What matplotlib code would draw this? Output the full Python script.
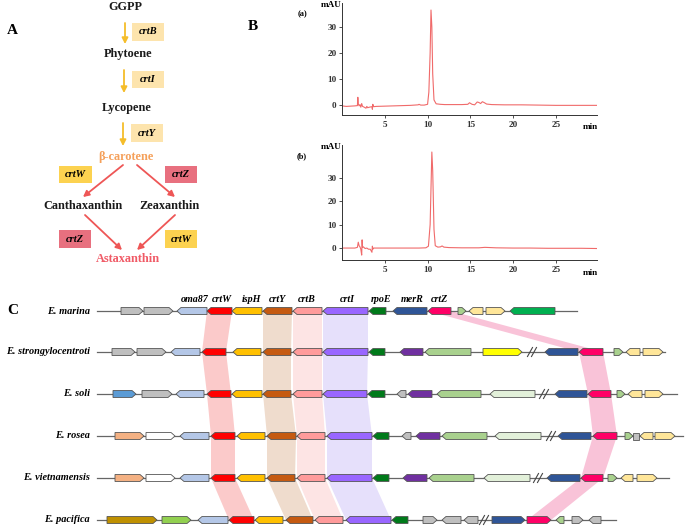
import matplotlib
matplotlib.use("Agg")
import matplotlib.pyplot as plt
from matplotlib.patches import Polygon, Rectangle

SERIF = ["Liberation Serif", "DejaVu Serif"]
plt.rcParams["font.family"] = SERIF

# ---------------- data ----------------
# Panel A pathway
pathway_main = ["GGPP", "Phytoene", "Lycopene", "β-carotene"]
pathway_enz = ["crtB", "crtI", "crtY"]
branch_products = ["Canthaxanthin", "Zeaxanthin"]
final_product = "Astaxanthin"

# Panel B chromatograms (time in min, absorbance in mAU)
time_a = [0, 0.5, 1.0, 1.5, 1.8, 1.85, 1.9, 2.0, 2.1, 2.2, 2.3, 2.4, 2.6, 2.8, 2.9, 3.0, 3.2, 3.5,
          3.55, 3.6, 3.7, 4.0, 5.0, 6.0, 7.0, 8.0, 8.9, 9.0, 9.2, 9.6, 10.0, 10.15, 10.3, 10.4,
          10.5, 10.6, 10.75, 11.0, 11.5, 12, 13, 14, 14.7, 14.9, 15.2, 15.5, 15.8, 16.0, 16.2,
          16.4, 16.6, 16.9, 17.5, 19, 21, 23, 25, 27, 29.8]
mau_a = [-0.3, -0.5, -0.4, -0.3, -0.2, 3.0, 0.5, -0.3, 0.2, -0.8, 0.6, -0.5, -0.8, -1.2, -0.5,
         -1.0, -0.8, -0.6, -1.6, 0.3, -0.6, -0.5, -0.4, -0.3, -0.2, -0.1, 0.1, 0.3, 0.0, 0.0,
         0.3, 5.0, 20.0, 36.5, 30.0, 12.0, 2.0, 0.5, 0.3, 0.2, 0.2, 0.2, 0.3, 0.9, 0.3, 0.1,
         1.2, 1.0, 0.6, 1.3, 1.0, 0.4, 0.2, 0.1, 0.1, 0.0, -0.1, -0.1, -0.1]
time_b = [0, 0.5, 1.0, 1.5, 1.8, 1.9, 2.0, 2.1, 2.2, 2.3, 2.35, 2.4, 2.5, 2.7, 2.9, 3.1, 3.3,
          3.5, 3.55, 3.6, 3.7, 4.0, 5, 6, 7, 8, 9, 9.8, 10.1, 10.3, 10.5, 10.6, 10.75, 10.9,
          11.2, 11.5, 11.7, 11.9, 12.5, 14, 16, 16.7, 18, 20, 22, 24, 26, 28, 29.8]
mau_b = [0, 0, 0, 0, 0.3, 2.5, 1.0, 0.5, -0.5, -3.0, 3.5, 0.3, 0.5, -0.2, 0, -0.5, -0.5,
         -1.8, 0.8, -0.5, 0, 0, 0, 0, 0, 0, 0, 0.1, 0.8, 10, 41, 33, 8, 1.0, 0.4, 0.5, 0.9,
         0.4, 0.2, 0.1, 0.1, 0.3, 0.1, 0, 0, -0.1, -0.1, -0.1, -0.2]
x_ticks = [5, 10, 15, 20, 25]
y_ticks = [0, 10, 20, 30]

# Panel C gene clusters: (name, start, end, direction, colour key)
genomes = ["E. marina", "E. strongylocentroti", "E. soli", "E. rosea",
           "E. vietnamensis", "E. pacifica"]
cluster_marina = [
    ("", 121, 143, "R", "gray"), ("", 144, 173, "R", "gray"), ("oma87", 177, 207, "L", "lblue"),
    ("crtW", 207, 232, "L", "red"), ("ispH", 232, 262, "L", "yellow"), ("crtY", 263, 292, "L", "brown"),
    ("crtB", 293, 322, "L", "pink"), ("crtI", 323, 368, "L", "purple"), ("rpoE", 369, 386, "L", "green"),
    ("merR", 393, 427, "L", "blue"), ("crtZ", 428, 451, "L", "crtz"), ("", 458, 466, "R", "sgreen"),
    ("", 469, 483, "L", "lyellow"), ("", 486, 505, "R", "lyellow"), ("", 510, 555, "L", "bgreen")]
cluster_strongylo = [
    ("", 112, 135, "R", "gray"), ("", 137, 166, "R", "gray"), ("", 171, 200, "L", "lblue"),
    ("crtW", 202, 226, "L", "red"), ("", 233, 261, "L", "yellow"), ("crtY", 263, 291, "L", "brown"),
    ("crtB", 293, 322, "L", "pink"), ("crtI", 323, 368, "L", "purple"), ("", 369, 385, "L", "green"),
    ("", 400, 423, "L", "dpurple"), ("", 425, 471, "L", "sgreen"), ("", 483, 522, "R", "byellow"),
    ("", 545, 578, "L", "blue"), ("crtZ", 579, 603, "L", "crtz"), ("", 614, 623, "R", "sgreen"),
    ("", 626, 640, "L", "lyellow"), ("", 643, 663, "R", "lyellow")]
cluster_soli = [
    ("", 113, 136, "R", "steel"), ("", 142, 172, "R", "gray"), ("", 176, 204, "L", "lblue"),
    ("crtW", 207, 231, "L", "red"), ("", 232, 262, "L", "yellow"), ("crtY", 263, 291, "L", "brown"),
    ("crtB", 293, 322, "L", "pink"), ("crtI", 323, 367, "L", "purple"), ("", 368, 385, "L", "green"),
    ("", 397, 406, "L", "gray"), ("", 408, 432, "L", "dpurple"), ("", 437, 481, "L", "sgreen"),
    ("", 490, 535, "L", "vlgreen"), ("", 555, 587, "L", "blue"), ("crtZ", 588, 611, "L", "crtz"),
    ("", 617, 625, "R", "sgreen"), ("", 628, 642, "L", "lyellow"), ("", 645, 663, "R", "lyellow")]
cluster_rosea = [
    ("", 115, 144, "R", "salmon"), ("", 146, 175, "R", "white"), ("", 180, 209, "L", "lblue"),
    ("crtW", 211, 235, "L", "red"), ("", 237, 265, "L", "yellow"), ("crtY", 267, 296, "L", "brown"),
    ("crtB", 297, 325, "L", "pink"), ("crtI", 327, 372, "L", "purple"), ("", 373, 389, "L", "green"),
    ("", 402, 411, "L", "gray"), ("", 416, 440, "L", "dpurple"), ("", 442, 487, "L", "sgreen"),
    ("", 495, 541, "L", "vlgreen"), ("", 558, 591, "L", "blue"), ("crtZ", 593, 617, "L", "crtz"),
    ("", 625, 633, "R", "sgreen"), ("", 633, 639, "S", "gray"), ("", 640, 653, "L", "lyellow"),
    ("", 655, 675, "R", "lyellow")]
cluster_vietnam = [
    ("", 115, 144, "R", "salmon"), ("", 146, 175, "R", "white"), ("", 180, 209, "L", "lblue"),
    ("crtW", 211, 235, "L", "red"), ("", 237, 265, "L", "yellow"), ("crtY", 267, 295, "L", "brown"),
    ("crtB", 297, 325, "L", "pink"), ("crtI", 327, 372, "L", "purple"), ("", 373, 389, "L", "green"),
    ("", 403, 427, "L", "dpurple"), ("", 429, 474, "L", "sgreen"), ("", 484, 530, "L", "vlgreen"),
    ("", 547, 580, "L", "blue"), ("crtZ", 581, 603, "L", "crtz"), ("", 608, 617, "R", "sgreen"),
    ("", 621, 633, "L", "lyellow"), ("", 637, 657, "R", "lyellow")]
cluster_pacifica = [
    ("", 107, 157, "R", "olive"), ("", 162, 191, "R", "lime"), ("", 198, 228, "L", "lblue"),
    ("crtW", 229, 254, "L", "red"), ("", 255, 283, "L", "yellow"), ("crtY", 286, 313, "L", "brown"),
    ("crtB", 315, 343, "L", "pink"), ("crtI", 346, 391, "L", "purple"), ("", 392, 408, "L", "green"),
    ("", 423, 437, "R", "gray"), ("", 442, 461, "L", "gray"), ("", 464, 478, "L", "gray"),
    ("", 492, 525, "R", "blue"), ("crtZ", 527, 551, "R", "crtz"), ("", 556, 564, "L", "sgreen"),
    ("", 572, 583, "R", "gray"), ("", 589, 601, "L", "gray")]
clusters = [cluster_marina, cluster_strongylo, cluster_soli, cluster_rosea, cluster_vietnam,
            cluster_pacifica]
line_ends = [577, 665, 677, 683, 669, 616]
breaks = [None, 532, 544, 551, 538, 484]
ribbon_genes = ["crtW", "crtY", "crtB", "crtI", "crtZ"]

# ---------------- styles ----------------
gene_colors = {
    "gray": "#bfbfbf", "lblue": "#b4c7e7", "red": "#ff0000", "yellow": "#ffc000",
    "brown": "#c55a11", "pink": "#ff9b9b", "purple": "#9966ff", "green": "#007a1a",
    "blue": "#2f5597", "crtz": "#ff0066", "sgreen": "#a9d18e", "lyellow": "#ffe699",
    "bgreen": "#00b050", "dpurple": "#7030a0", "byellow": "#ffff00", "vlgreen": "#e2f0d9",
    "steel": "#5b9bd5", "salmon": "#f4b183", "white": "#ffffff", "olive": "#bf9000",
    "lime": "#92d050"}
ribbon_colors = {"crtW": "#fbcaca", "crtY": "#efdccd", "crtB": "#fde4e4",
                 "crtI": "#e6e0fb", "crtZ": "#f9c3d8"}
row_y = [311, 352, 394, 436, 478, 520]

W, H = 685, 527
fig = plt.figure(figsize=(W / 100, H / 100), dpi=100)
ax0 = fig.add_axes([0, 0, 1, 1])
ax0.set_xlim(0, W)
ax0.set_ylim(H, 0)
ax0.axis("off")

bold = dict(fontweight="bold", family=SERIF)
ital = dict(fontweight="bold", style="italic", family=SERIF)

# ---------------- Panel A ----------------
ax0.text(7, 30, "A", fontsize=11, va="center", ha="left", **bold)
main_pos = [(125, 7), (128, 54), (127, 108), (126, 157)]
main_cols = ["#1a1a1a", "#1a1a1a", "#1a1a1a", "#f5a05a"]
for name, (x, y), c in zip(pathway_main, main_pos, main_cols):
    ax0.text(x, y, name, fontsize=8.8, ha="center", va="center", color=c, **bold)
gold_arrows = [((125, 23), (125, 44)), ((124, 70), (124, 93)), ((123, 123), (123, 146))]
enz_boxes = [(132, 23, 164, 41), (132, 71, 164, 88), (131, 124, 163, 142)]
for (p0, p1), (bx0, by0, bx1, by1), enz in zip(gold_arrows, enz_boxes, pathway_enz):
    ax0.annotate("", xy=p1, xytext=p0,
                 arrowprops=dict(arrowstyle="-|>,head_length=0.35,head_width=0.18",
                                 color="#f5bd2a", lw=1.3, shrinkA=0, shrinkB=0))
    ax0.add_patch(Rectangle((bx0, by0), bx1 - bx0, by1 - by0, color="#fde4ad", lw=0))
    ax0.text((bx0 + bx1) / 2, (by0 + by1) / 2, enz, fontsize=7.6, ha="center", va="center", **ital)

red_arrows = [((123, 165), (83, 197)), ((137, 165), (175, 197)),
              ((85, 215), (122, 250)), ((175, 215), (137, 250))]
for p0, p1 in red_arrows:
    ax0.annotate("", xy=p1, xytext=p0,
                 arrowprops=dict(arrowstyle="-|>,head_length=0.35,head_width=0.18",
                                 color="#ee5656", lw=1.3, shrinkA=0, shrinkB=0))
branch_boxes = [((59, 166, 92, 183), "crtW", "#fcd250"), ((165, 166, 197, 183), "crtZ", "#e8707f"),
                ((59, 230, 91, 248), "crtZ", "#e8707f"), ((165, 230, 197, 248), "crtW", "#fcd250")]
for (bx0, by0, bx1, by1), enz, c in branch_boxes:
    ax0.add_patch(Rectangle((bx0, by0), bx1 - bx0, by1 - by0, color=c, lw=0))
    ax0.text((bx0 + bx1) / 2, (by0 + by1) / 2, enz, fontsize=7.6, ha="center", va="center", **ital)
ax0.text(83, 206, branch_products[0], fontsize=8.8, ha="center", va="center", color="#1a1a1a", **bold)
ax0.text(170, 206, branch_products[1], fontsize=8.8, ha="center", va="center", color="#1a1a1a", **bold)
ax0.text(128, 259, final_product, fontsize=8.8, ha="center", va="center", color="#f05a66", **bold)

# ---------------- Panel B ----------------
ax0.text(248, 27, "B", fontsize=11, va="center", ha="left", **bold)


def chrom(top, bottom, ylim, t, v, tag):
    ax = fig.add_axes([342 / W, 1 - bottom / H, 255 / W, (bottom - top) / H])
    ax.plot(t, v, color="#f06a6a", lw=0.8)
    ax.set_xlim(0, 29.8)
    ax.set_ylim(*ylim)
    ax.set_xticks(x_ticks)
    ax.set_yticks(y_ticks)
    for s in ["top", "right"]:
        ax.spines[s].set_visible(False)
    for s in ["left", "bottom"]:
        ax.spines[s].set_linewidth(0.7)
        ax.spines[s].set_color("#333333")
    ax.tick_params(length=2, width=0.6, labelsize=6.6, pad=2, colors="#333333")
    for lab in ax.get_xticklabels() + ax.get_yticklabels():
        lab.set_fontweight("bold")
    ax.text(29.0, -0.075, "min", transform=ax.get_xaxis_transform(), fontsize=6.6,
            ha="center", va="top", **bold)
    fig.text(331 / W, 1 - (top + 2) / H, "mAU", fontsize=6.6, ha="center", va="center", **bold)
    fig.text(302 / W, 1 - (top + 11) / H, tag, fontsize=6, ha="center", va="center", **bold)
    return ax


chrom(3, 115, (-3.8, 39.2), time_a, mau_a, "(a)")
chrom(145, 260, (-5.1, 44), time_b, mau_b, "(b)")

# ---------------- Panel C ----------------
ax0.text(7, 311, "C", fontsize=11, va="center", ha="left", **bold)
GH = 7.0
HEAD = 4.0

for gname in ribbon_genes:
    left, right = [], []
    for cl, y in zip(clusters, row_y):
        for g in cl:
            if g[0] == gname:
                left.append((g[1], y))
                right.append((g[2], y))
    ax0.add_patch(Polygon(left + right[::-1], closed=True, color=ribbon_colors[gname],
                          lw=0, zorder=1))

for name, cl, y, xend, br in zip(genomes, clusters, row_y, line_ends, breaks):
    ax0.text(90, y, name, fontsize=7.4, ha="right", va="center", zorder=5, **ital)
    ax0.plot([97, xend], [y, y], color="#666666", lw=0.9, zorder=2)
    if br is not None:
        for dx in (-2, 2):
            ax0.plot([br + dx - 2.5, br + dx + 2.5], [y + 4.5, y - 4.5], color="#444444",
                     lw=0.8, zorder=3)
    for g in cl:
        _, x0, x1, d, ck = g
        h = min(HEAD, (x1 - x0) * 0.55)
        if d == "R":
            pts = [(x0, y - GH / 2), (x1 - h, y - GH / 2), (x1, y), (x1 - h, y + GH / 2),
                   (x0, y + GH / 2)]
        elif d == "L":
            pts = [(x1, y - GH / 2), (x0 + h, y - GH / 2), (x0, y), (x0 + h, y + GH / 2),
                   (x1, y + GH / 2)]
        else:
            pts = [(x0, y - GH / 2), (x1, y - GH / 2), (x1, y + GH / 2), (x0, y + GH / 2)]
        ax0.add_patch(Polygon(pts, closed=True, facecolor=gene_colors[ck],
                              edgecolor="#555555", lw=0.6, zorder=4))

label_x = {"oma87": 195, "crtW": 222, "ispH": 251, "crtY": 277, "crtB": 307,
           "crtI": 347, "rpoE": 381, "merR": 412, "crtZ": 439}
for g in cluster_marina:
    if g[0]:
        ax0.text(label_x[g[0]], 300, g[0], fontsize=7.2, ha="center", va="center", **ital)

fig.savefig("out.png", dpi=100)
